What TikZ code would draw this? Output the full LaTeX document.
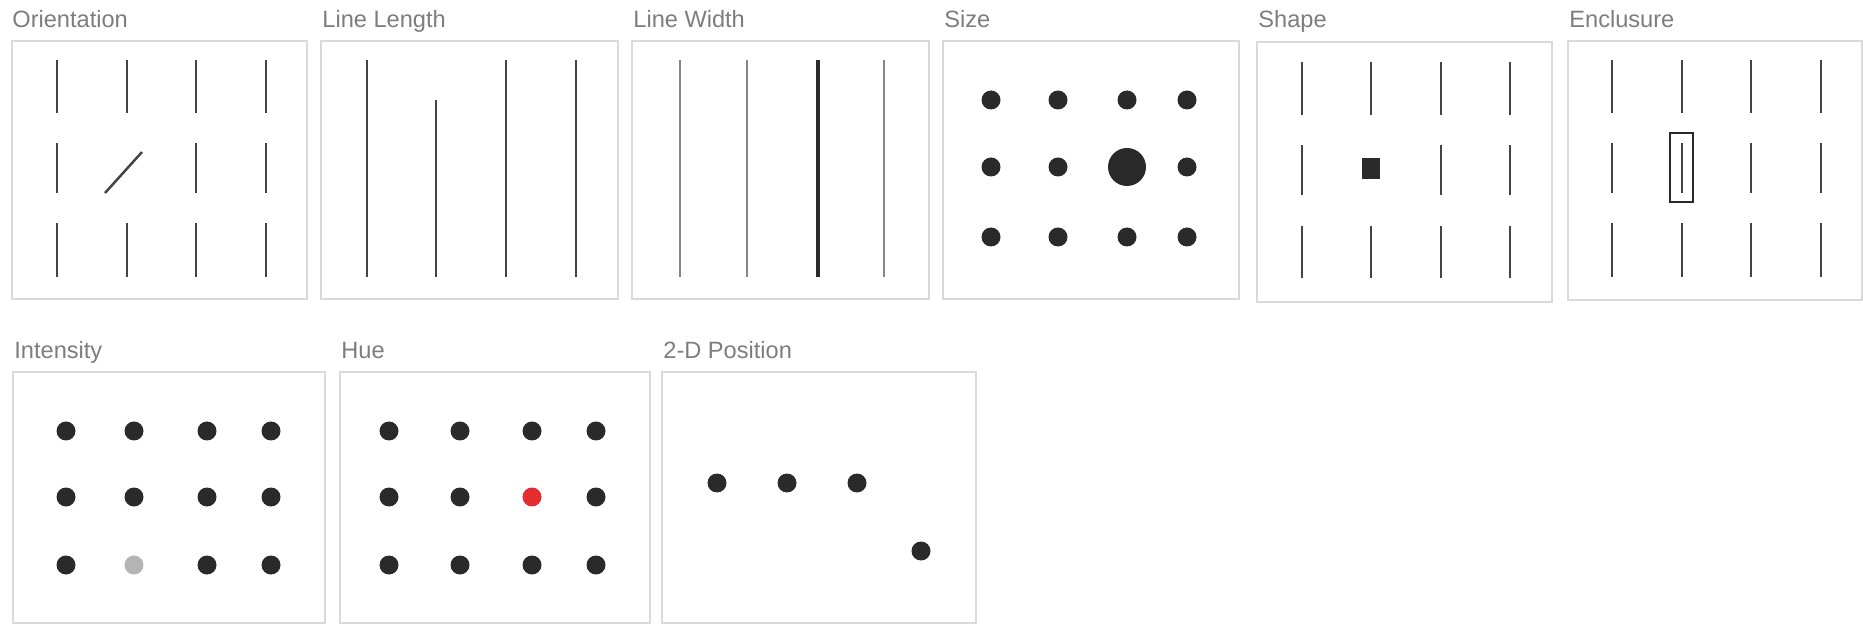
\documentclass[tikz,border=0pt]{standalone}
\usepackage{fontspec}
\setmainfont{Liberation Sans}
\usetikzlibrary{positioning}
\definecolor{PanelGray}{RGB}{218,218,218}
\definecolor{TitleGray}{RGB}{125,125,125}
\definecolor{BarGray}{RGB}{68,68,68}
\definecolor{ThinGray}{RGB}{135,135,135}
\definecolor{DotBlack}{RGB}{42,42,42}
\definecolor{PaleGray}{RGB}{180,180,180}
\definecolor{SignalRed}{RGB}{228,45,45}

\begin{document}
\begin{tikzpicture}[x=0.5pt, y=-0.5pt,
    panel/.style={draw=PanelGray, line width=1pt},
    title/.style={text=TitleGray, anchor=base west, inner sep=0pt,
      font=\fontsize{11.8}{14}\selectfont},
    bar/.style={draw=BarGray, line width=1.25pt},
    dot/.style={fill=DotBlack}]
    \useasboundingbox (0,0) rectangle (1863,625);
    % Panels, top row
    \draw[panel] (12,41) rectangle (307,299);
    \draw[panel] (321,41) rectangle (618,299);
    \draw[panel] (632,41) rectangle (929,299);
    \draw[panel] (943,41) rectangle (1239,299);
    \draw[panel] (1257,42) rectangle (1552,302);
    \draw[panel] (1568,41) rectangle (1862,300);
    % Panels, bottom row
    \draw[panel] (13,372) rectangle (325,623);
    \draw[panel] (340,372) rectangle (650,623);
    \draw[panel] (662,372) rectangle (976,623);
    % Titles
    \node[title] (orient) at (12,28) {Orientation};
    \node[title] (length) at (322,28) {Line Length};
    \node[title] (width) at (633,28) {Line Width};
    \node[title] (size) at (944,28) {Size};
    \node[title] (shape) at (1258,28) {Shape};
    \node[title] (enclose) at (1569,28) {Enclusure};
    \node[title] (intens) at (14,359) {Intensity};
    \node[title] (hue) at (341,359) {Hue};
    \node[title] (pos) at (663,359) {2-D Position};

    % Orientation
    \foreach \x in {57,196,266}
      \foreach \a/\b in {60/113,143/193,223/277}
        \draw[bar] (\x,\a) -- (\x,\b);
    \draw[bar] (127,60) -- (127,113) (127,223) -- (127,277);
    \draw[bar] (105,193) -- (142,152);

    % Line length
    \foreach \x in {367,506,576}
      \draw[bar, line width=1pt] (\x,60) -- (\x,277);
    \draw[bar, line width=1pt] (436,100) -- (436,277);

    % Line width
    \foreach \x in {680,747,884}
      \draw[ThinGray, line width=0.75pt] (\x,60) -- (\x,277);
    \draw[DotBlack, line width=2pt] (818,60) -- (818,277);

    % Size
    \foreach \x in {991,1058,1187}
      \foreach \y in {100,167,237}
        \fill[dot] (\x,\y) circle (9.5);
    \fill[dot] (1127,100) circle (9.5) (1127,237) circle (9.5);
    \fill[dot] (1127,167) circle (19);

    % Shape
    \foreach \x in {1302,1441,1510}
      \foreach \a/\b in {62/115,145/195,226/278}
        \draw[bar] (\x,\a) -- (\x,\b);
    \draw[bar] (1371,62) -- (1371,115) (1371,226) -- (1371,278);
    \fill[DotBlack] (1362,158) rectangle (1380,179);

    % Enclosure
    \foreach \x in {1612,1682,1751,1821}
      \foreach \a/\b in {60/113,143/193,223/277}
        \draw[bar] (\x,\a) -- (\x,\b);
    \draw[DotBlack, line width=0.8pt] (1670,133) rectangle (1693,202);

    % Intensity
    \foreach \x in {66,207,271}
      \foreach \y in {431,497,565}
        \fill[dot] (\x,\y) circle (9.5);
    \fill[dot] (134,431) circle (9.5) (134,497) circle (9.5);
    \fill[PaleGray] (134,565) circle (9.5);

    % Hue
    \foreach \x in {389,460,596}
      \foreach \y in {431,497,565}
        \fill[dot] (\x,\y) circle (9.5);
    \fill[dot] (532,431) circle (9.5) (532,565) circle (9.5);
    \fill[SignalRed] (532,497) circle (9.5);

    % 2-D position
    \foreach \x in {717,787,857}
      \fill[dot] (\x,483) circle (9.5);
    \fill[dot] (921,551) circle (9.5);
\end{tikzpicture}
\end{document}
